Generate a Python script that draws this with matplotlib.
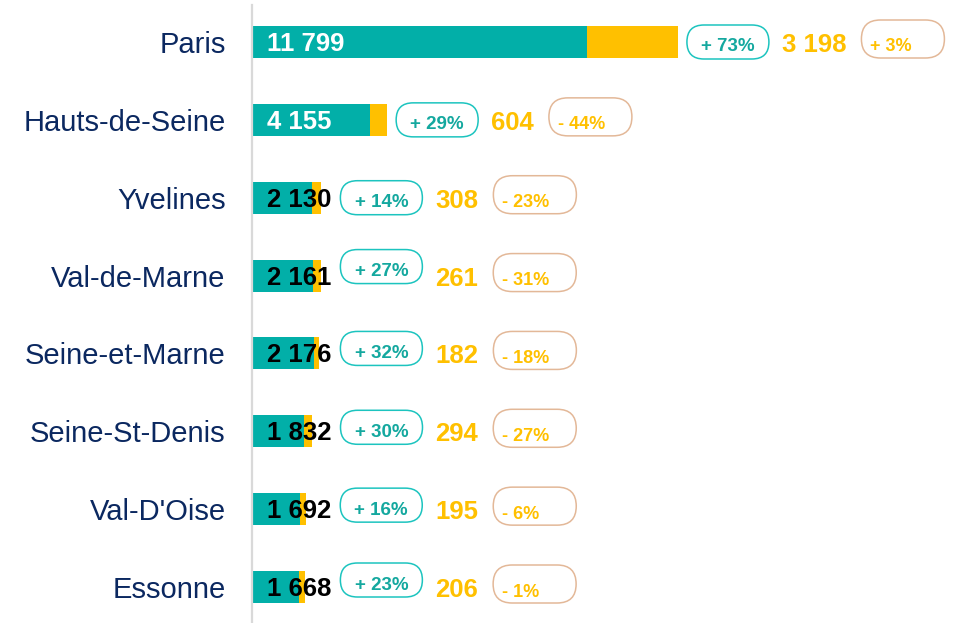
import matplotlib.pyplot as plt
from matplotlib.patches import FancyBboxPatch

plt.rcParams['font.family'] = ['Liberation Sans', 'DejaVu Sans']

# données
depts = ['Paris', 'Hauts-de-Seine', 'Yvelines', 'Val-de-Marne', 'Seine-et-Marne',
         'Seine-St-Denis', "Val-D'Oise", 'Essonne']
main_vals = [11799, 4155, 2130, 2161, 2176, 1832, 1692, 1668]
second_vals = [3198, 604, 308, 261, 182, 294, 195, 206]
main_evol = ['+ 73%', '+ 29%', '+ 14%', '+ 27%', '+ 32%', '+ 30%', '+ 16%', '+ 23%']
second_evol = ['+ 3%', '- 44%', '- 23%', '- 31%', '- 18%', '- 27%', '- 6%', '- 1%']

TEAL = '#02AFA8'
YELLOW = '#FFC000'
NAVY = '#0B2860'
TEAL_EDGE = '#1CC4BF'
TEAL_TXT = '#14A89F'
PEACH = '#E3B898'

W, H = 961, 623
fig = plt.figure(figsize=(W / 100, H / 100), dpi=100)

x0_px = 252
px_per_unit = 0.0284
row_px = 77.86
ax = fig.add_axes([x0_px / W, 0, 1 - x0_px / W, 1])
ax.set_xlim(0, (W - x0_px) / px_per_unit)
ax.set_ylim(7 + 36 / row_px, -42 / row_px)

y = list(range(len(depts)))
ax.barh(y, main_vals, height=0.41, color=TEAL)
ax.barh(y, second_vals, left=main_vals, height=0.41, color=YELLOW)
ax.axvline(0, ymin=0, ymax=(H - 5) / H, color='#D9D9D9', lw=1.6, clip_on=False)

for s in ax.spines.values():
    s.set_visible(False)
ax.set_xticks([])
ax.set_yticks(y, depts)
ax.tick_params(axis='y', length=0, pad=19, labelsize=21, labelcolor=NAVY)

# calque en pixels pour les étiquettes
ov = fig.add_axes([0, 0, 1, 1])
ov.set_xlim(0, W)
ov.set_ylim(0, H)
ov.axis('off')

fig.canvas.draw()
rend = fig.canvas.get_renderer()

# petits décalages verticaux des bulles turquoise (pixels)
teal_nudge = [0, 0, 0, 9, 5, 4, 4, 7]

def fmt(v):
    return f'{v:,}'.replace(',', ' ')

for i in y:
    xe, yc = ax.transData.transform((main_vals[i] + second_vals[i], i))
    xt, _ = ax.transData.transform((main_vals[i], i))

    t = ov.text(x0_px + 15, yc - 2, fmt(main_vals[i]), ha='left', va='center',
                fontsize=18.5, fontweight='bold', color='black', zorder=5)
    ext = t.get_window_extent(rend)
    if ext.x1 < xt - 4:
        t.set_color('white')

    # bulle turquoise
    px = max(xe, ext.x1) + 9
    pc = yc + teal_nudge[i]
    ov.add_patch(FancyBboxPatch((px, pc - 17), 82, 34,
                                boxstyle='round,pad=0,rounding_size=17',
                                fc='white', ec=TEAL_EDGE, lw=1.1))
    ov.text(px + 41, pc - 5, main_evol[i], ha='center', va='center',
            fontsize=13.5, fontweight='bold', color=TEAL_TXT)

    # valeur jaune
    nx = px + 82 + 13
    n = ov.text(nx, yc - 3, fmt(second_vals[i]), ha='left', va='center',
                fontsize=18.5, fontweight='bold', color=YELLOW)
    ne = n.get_window_extent(rend).x1

    # bulle pêche
    ox = ne + 15
    oc = yc + 3
    ov.add_patch(FancyBboxPatch((ox, oc - 19), 83, 38,
                                boxstyle='round,pad=0,rounding_size=19',
                                fc='white', ec=PEACH, lw=1.1))
    ov.text(ox + 9, oc - 8, second_evol[i], ha='left', va='center',
            fontsize=13, fontweight='bold', color=YELLOW)

fig.savefig('out.png', dpi=100)
